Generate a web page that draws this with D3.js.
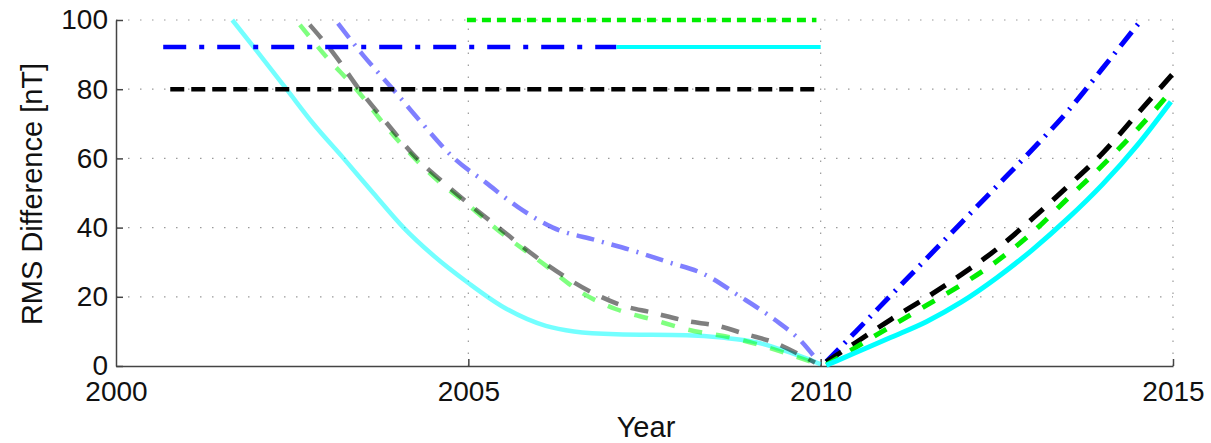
<!DOCTYPE html>
<html>
<head>
<meta charset="utf-8">
<script src="https://cdn.jsdelivr.net/npm/d3@7"></script>
<style>
  body { margin: 0; background: #fff; }
  text { font-family: "Liberation Sans", Arial, sans-serif; }
</style>
</head>
<body>
<svg id="myGraph"></svg>
<script>
var width = 1211;
var height = 443;

// tick labels
var xTicks = [2000, 2005, 2010, 2015];
var yTicks = [0, 20, 40, 60, 80, 100];

// backward curves (2000-2010), drawn faded
var cyanBack = [[2001.65,100],[2002.0,91],[2002.42,80],[2002.8,70],[2003.23,60],[2003.65,50],[2004.08,40],[2004.5,32],[2005,24],[2005.5,17],[2006.1,11.6],[2006.5,10],[2007.1,9.2],[2008.1,8.9],[2008.6,8.2],[2009.1,6.8],[2009.4,5],[2009.7,2.9],[2010,0.5]];
var greenBack = [[2002.61,98.6],[2003.0,89],[2003.41,80],[2003.8,70],[2004.24,60],[2004.6,53],[2005,46.5],[2005.4,39.6],[2006.1,29],[2006.6,21.3],[2007.1,16.4],[2007.6,13.5],[2008.1,10.6],[2008.84,7.7],[2009.34,4.8],[2009.9,1]];
var grayBack = [[2002.75,98.6],[2003.1,90],[2003.45,80],[2003.85,70],[2004.27,60],[2004.65,53],[2005,47],[2005.4,40.5],[2006.1,29.5],[2006.8,20.8],[2007.2,17.4],[2007.6,15.5],[2008.1,13],[2008.54,11.6],[2008.94,9.2],[2009.34,6.8],[2009.74,2.9],[2009.92,1]];
var blueBack = [[2003.15,99],[2003.5,90],[2003.93,80],[2004.35,70],[2004.8,60],[2005.25,53],[2005.7,46],[2006.2,40],[2006.84,36.2],[2007.34,33.3],[2007.84,30],[2008.34,26.6],[2008.84,20.3],[2009.34,13.5],[2009.74,6.8],[2009.94,1.9]];

// forward curves (2010-2015)
var blueFwd = [[2010.08,1.2],[2010.5,10],[2011,20.5],[2011.5,31],[2012,41.5],[2012.5,52],[2013,62.5],[2013.5,73.5],[2014,86],[2014.55,100]];
var blackFwd = [[2010.08,1.2],[2010.5,6.8],[2011,13.5],[2011.5,19.8],[2012,26.5],[2012.5,33.8],[2013,42.5],[2013.5,51.8],[2014,61.5],[2014.5,73],[2015,84.5]];
var greenFwd = [[2010.08,0.3],[2010.5,5.4],[2011,11.5],[2011.5,17.5],[2012,23.5],[2012.5,30.3],[2013,38.5],[2013.5,48.3],[2014,58],[2014.5,68.5],[2014.97,79.3]];
var cyanFwd = [[2010.08,0.2],[2010.5,3.9],[2011,8.3],[2011.5,12.8],[2012,18.5],[2012.5,25.5],[2013,33.5],[2013.5,42.5],[2014,52.5],[2014.5,64],[2014.97,76.4]];

// horizontal reference levels
var greenLevel = [[2004.98,100],[2009.94,100]];
var blueLevel = [[2000.67,92.2],[2007.1,92.2]];
var cyanLevel = [[2007.1,92.2],[2010,92.2]];
var blackLevel = [[2000.77,80],[2010,80]];

var svg = d3.select("#myGraph")
    .attr("width", width)
    .attr("height", height);

var x = d3.scaleLinear().domain([2000, 2015]).range([116, 1173]);
var y = d3.scaleLinear().domain([0, 100]).range([366, 20]);

// dotted grid
svg.selectAll("line.hgrid")
    .data(yTicks.filter(function(d){ return d > 0; }))
    .enter().append("line")
    .attr("x1", x(2000)).attr("x2", x(2015))
    .attr("y1", function(d){ return y(d); })
    .attr("y2", function(d){ return y(d); })
    .attr("stroke", "#9a9a9a")
    .attr("stroke-width", 1.2)
    .attr("stroke-dasharray", "1.5,10.5");

svg.selectAll("line.vgrid")
    .data(xTicks.filter(function(d){ return d > 2000; }))
    .enter().append("line")
    .attr("y1", y(0)).attr("y2", y(100))
    .attr("x1", function(d){ return x(d); })
    .attr("x2", function(d){ return x(d); })
    .attr("stroke", "#9a9a9a")
    .attr("stroke-width", 1.2)
    .attr("stroke-dasharray", "1.5,10.5");

// axes
var xAxis = d3.axisBottom(x).tickValues(xTicks).tickFormat(d3.format("d")).tickSizeInner(-7).tickSizeOuter(0);
var yAxis = d3.axisLeft(y).tickValues(yTicks).tickSizeInner(-7).tickSizeOuter(0);

var gx = svg.append("g").attr("transform", "translate(0," + y(0) + ")").call(xAxis);
var gy = svg.append("g").attr("transform", "translate(" + x(2000) + ",0)").call(yAxis);

[gx, gy].forEach(function(g){
    g.select(".domain").attr("stroke", "#444").attr("stroke-width", 1.5);
    g.selectAll(".tick line").attr("stroke", "#444").attr("stroke-width", 1.5);
    g.selectAll(".tick text").attr("fill", "#111").style("font-size", "28px").style("font-family", "Liberation Sans, Arial, sans-serif");
});
gx.selectAll(".tick text").attr("dy", "0.71em").attr("y", 15);
gy.selectAll(".tick text").attr("x", -8);
gx.selectAll(".tick").filter(function(d){ return d === 2000; }).select("line").remove();

svg.append("text")
    .attr("x", 646).attr("y", 437)
    .attr("text-anchor", "middle")
    .style("font-size", "29px")
    .attr("fill", "#111")
    .text("Year");

svg.append("text")
    .attr("transform", "translate(42,194) rotate(-90)")
    .attr("text-anchor", "middle")
    .style("font-size", "29px")
    .attr("fill", "#111")
    .text("RMS Difference [nT]");

var line = d3.line()
    .x(function(d){ return x(d[0]); })
    .y(function(d){ return y(d[1]); })
    .curve(d3.curveMonotoneX);

function draw(data, color, dash, w, op) {
    svg.append("path")
        .datum(data)
        .attr("d", line)
        .attr("fill", "none")
        .attr("stroke", color)
        .attr("stroke-width", w)
        .attr("stroke-opacity", op)
        .attr("stroke-dasharray", dash);
}

// dash patterns: levels are tighter than the curves
var levelDash = "14,7";
var levelShort = "9,6";
var levelDashDot = "23,13,5,13";
var curveDash = "18,13";
var curveShort = "14,14";
var curveDashDot = "18,8,2,8";

// faded backward curves
draw(cyanBack, "#00ffff", null, 4.5, 0.55);
draw(greenBack, "#00ff00", curveShort, 4.5, 0.5);
draw(grayBack, "#000000", curveDash, 4.5, 0.5);
draw(blueBack, "#0000ff", curveDashDot, 4.5, 0.5);

// levels
draw(greenLevel, "#00ee00", levelShort, 4.5, 1);
draw(blueLevel, "#0000ff", levelDashDot, 4.5, 1);
draw(cyanLevel, "#00ffff", null, 4, 1);
draw(blackLevel, "#000000", levelDash, 4.5, 1);

// forward curves
draw(blueFwd, "#0000ff", curveDashDot, 5, 1);
draw(blackFwd, "#000000", curveDash, 5, 1);
draw(greenFwd, "#00ee00", curveShort, 5, 1);
draw(cyanFwd, "#00ffff", null, 5, 1);
</script>
</body>
</html>
